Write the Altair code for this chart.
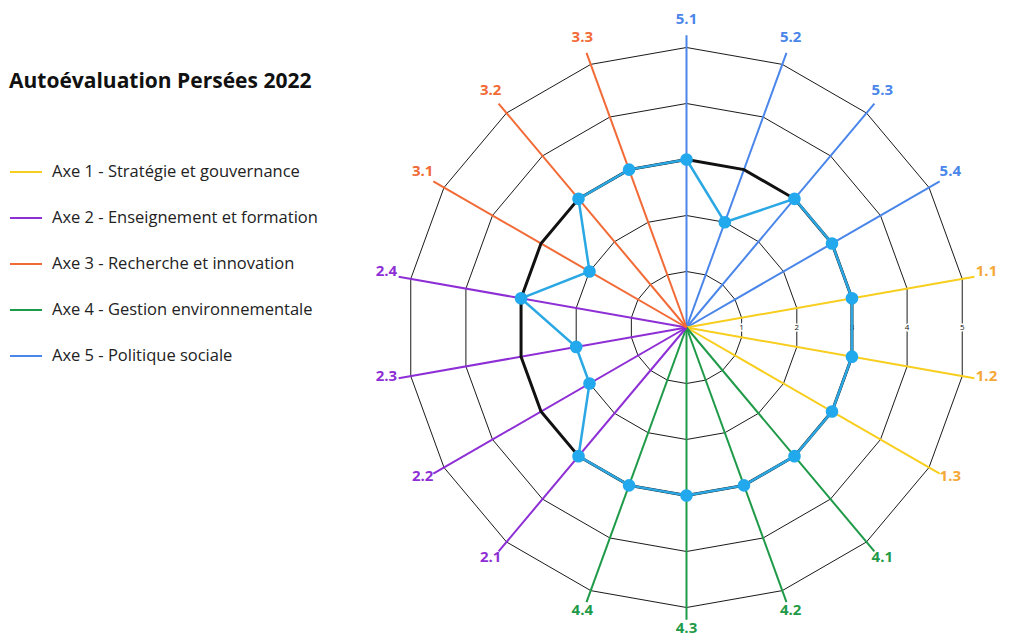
import altair as alt
import pandas as pd

# ---------------- data ----------------
axis_labels = ["5.1", "5.2", "5.3", "5.4", "1.1", "1.2", "1.3", "4.1", "4.2",
               "4.3", "4.4", "2.1", "2.2", "2.3", "2.4", "3.1", "3.2", "3.3"]
scores_2022 = [3, 2, 3, 3, 3, 3, 3, 3, 3, 3, 3, 3, 2, 2, 3, 2, 3, 3]
target_level = [3, 3, 3, 3, 3, 3, 3, 3, 3, 3, 3, 3, 3, 3, 3, 3, 3, 3]
ring_levels = [1, 2, 3, 4, 5]
tick_labels = ["1", "2", "3", "4", "5"]
group_names = ["Axe 1 - Stratégie et gouvernance",
               "Axe 2 - Enseignement et formation",
               "Axe 3 - Recherche et innovation",
               "Axe 4 - Gestion environnementale",
               "Axe 5 - Politique sociale"]
group_line_colors = ["#F8CE1E", "#8E2FD6", "#F26A36", "#1E9A48", "#4A86EA"]
group_label_colors = ["#F4A836", "#8E2FD6", "#F26A36", "#1E9A48", "#4A86EA"]
title_text = "Autoévaluation Persées 2022"

N = len(axis_labels)
SPOKE_LEN = 5.22
LABEL_R = 5.44

# ---------------- tables ----------------
grid_rows = []
for lv in ring_levels:
    for k in range(N + 1):
        grid_rows.append({"ring": lv, "k": k, "idx": k % N, "r": lv})
grid_df = pd.DataFrame(grid_rows)

spoke_rows = []
label_rows = []
for i, lab in enumerate(axis_labels):
    g = int(lab.split(".")[0]) - 1
    for r in (0, SPOKE_LEN):
        spoke_rows.append({"axis": lab, "idx": i, "r": r, "group": group_names[g]})
    label_rows.append({"axis": lab, "idx": i, "r": LABEL_R, "col": group_label_colors[g]})
spoke_df = pd.DataFrame(spoke_rows)
label_df = pd.DataFrame(label_rows)

series_rows = []
for k in range(N + 1):
    i = k % N
    series_rows.append({"k": k, "idx": i, "score": scores_2022[i], "target": target_level[i]})
series_df = pd.DataFrame(series_rows)
points_df = series_df[series_df["k"] < N]

tick_df = pd.DataFrame({"lv": ring_levels, "txt": tick_labels})

# ---------------- scales ----------------
W, H = 995, 628
UNIT = 56.0
CX, CY = 686.5 - 8, 327.5 - 8
xs = alt.Scale(domain=[-CX / UNIT, (W - CX) / UNIT], nice=False, zero=False)
ys = alt.Scale(domain=[-(H - CY) / UNIT, CY / UNIT], nice=False, zero=False)

def polar(chart, rfield):
    return chart.transform_calculate(
        ang=f"datum.idx * 2 * PI / {N}"
    ).transform_calculate(
        px=f"datum.{rfield} * sin(datum.ang)",
        py=f"datum.{rfield} * cos(datum.ang)",
    )

X = alt.X("px:Q", scale=xs, axis=None)
Y = alt.Y("py:Q", scale=ys, axis=None)

grid = polar(alt.Chart(grid_df), "r").mark_line(color="#1a1a1a", strokeWidth=1).encode(
    x=X, y=Y, detail="ring:N", order="k:Q")

legend = alt.Legend(
    orient="none", legendX=1, legendY=63, padding=0,
    title=title_text, titleFont="Open Sans", titleFontSize=21, titleFontWeight="bold",
    titleColor="#111111", titleLimit=600, titlePadding=63,
    labelFont="Open Sans", labelFontSize=16.5, labelColor="#222222", labelLimit=600,
    labelOffset=9, symbolType="stroke", symbolSize=1024, symbolStrokeWidth=2,
    rowPadding=20,
)
spokes = polar(alt.Chart(spoke_df), "r").mark_line(strokeWidth=2).encode(
    x=X, y=Y, detail="axis:N", order="r:Q",
    color=alt.Color("group:N", scale=alt.Scale(domain=group_names, range=group_line_colors),
                    legend=legend))

target_line = polar(alt.Chart(series_df), "target").mark_line(
    color="#111111", strokeWidth=3).encode(x=X, y=Y, order="k:Q")
score_line = polar(alt.Chart(series_df), "score").mark_line(
    color="#2BA8E4", strokeWidth=2.5).encode(x=X, y=Y, order="k:Q")
score_pts = polar(alt.Chart(points_df), "score").mark_circle(
    color="#22A8EC", opacity=1, size=160).encode(x=X, y=Y)

labels = polar(alt.Chart(label_df), "r").mark_text(
    font="Open Sans", fontSize=15, fontWeight="bold", dy=-4).encode(
    x=X, y=Y, text="axis:N", color=alt.Color("col:N", scale=None))

ticks_base = alt.Chart(tick_df).transform_calculate(
    px="datum.lv * cos(PI / 18)", py="0")
tick_halo = ticks_base.mark_text(font="Open Sans", fontSize=8, color="white",
                                 stroke="white", strokeWidth=3).encode(x=X, y=Y, text="txt:N")
tick_txt = ticks_base.mark_text(font="Open Sans", fontSize=8, color="#111111").encode(
    x=X, y=Y, text="txt:N")

chart = alt.layer(grid, spokes, tick_halo, tick_txt, target_line, score_line, score_pts, labels).properties(
    width=W, height=H, padding=0, autosize=alt.AutoSizeParams(type="none"),
    background="white",
).configure_view(stroke=None)

chart.save("out.html", embed_options={"renderer": "svg", "actions": False})
